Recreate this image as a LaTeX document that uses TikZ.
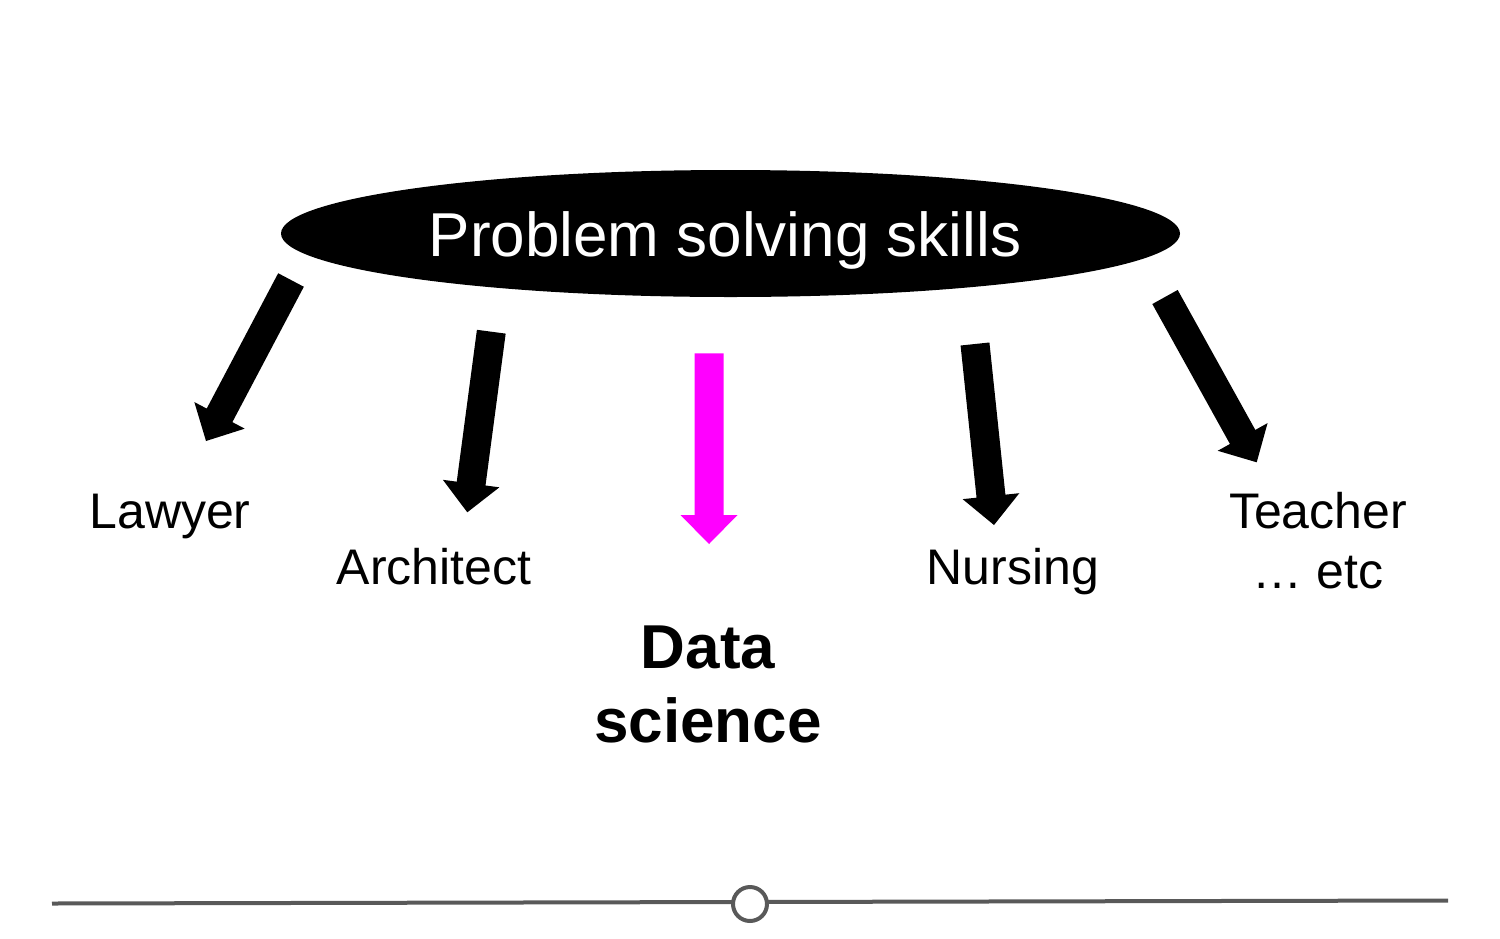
\documentclass[tikz,border=0pt]{standalone}
\usepackage{fontspec}
\setmainfont{Liberation Sans}
\usetikzlibrary{shapes.geometric,calc}
\definecolor{magentaarrow}{HTML}{FF00FF}
\definecolor{linegray}{HTML}{595959}
\newcommand\blockarr[3]{%
  \coordinate (ba-b) at ($(#2)!29pt!(#1)$);
  \fill[#3] ($(#1)!14.5pt!90:(#2)$) -- ($(ba-b)!14.5pt!90:(#2)$) --
    ($(ba-b)!28.5pt!90:(#2)$) -- (#2) -- ($(ba-b)!28.5pt!-90:(#2)$) --
    ($(ba-b)!14.5pt!-90:(#2)$) -- ($(#1)!14.5pt!-90:(#2)$) -- cycle;}
\tikzset{
  lbl/.style={font=\fontsize{50}{60}\selectfont, anchor=base, inner sep=0pt},
  boldlbl/.style={font=\fontsize{62}{74}\selectfont\bfseries, anchor=base, inner sep=0pt},
  titlelbl/.style={font=\fontsize{62}{74}\selectfont, text=white, anchor=base, inner sep=0pt},
  oval/.style={ellipse, fill=black, minimum width=899pt, minimum height=127pt, inner sep=0pt},
}
\begin{document}
\begin{tikzpicture}[x=1pt,y=-1pt]
\useasboundingbox (0,0) rectangle (1500,938);
% top ellipse
\node[oval] (ps) at (730.5,233.5) {};
\node[titlelbl] (pstext) at (725,256) {Problem solving skills};
% labels
\node[lbl] (lawyer) at (170,528) {Lawyer};
\node[lbl] (architect) at (434,584) {Architect};
\node[lbl] (nursing) at (1013,584) {Nursing};
\node[lbl] (teacher) at (1318,528) {Teacher};
\node[lbl] (etc) at (1318,588) {… etc};
\node[boldlbl] (data) at (708,668) {Data};
\node[boldlbl] (science) at (708,742) {science};
% arrow end points
\coordinate (t1) at (291,280);    \coordinate (h1) at (206,441);
\coordinate (t2) at (491.3,331.7); \coordinate (h2) at (467.3,512.3);
\coordinate (t3) at (709,353.3);  \coordinate (h3) at (709,544);
\coordinate (t4) at (975,344);    \coordinate (h4) at (994,525);
\coordinate (t5) at (1165,297);   \coordinate (h5) at (1256.7,462.3);
\blockarr{t1}{h1}{black}
\blockarr{t2}{h2}{black}
\blockarr{t3}{h3}{magentaarrow}
\blockarr{t4}{h4}{black}
\blockarr{t5}{h5}{black}
% bottom slider
\coordinate (lineL) at (52,903.5);
\coordinate (lineR) at (1448,900.5);
\draw[linegray, line width=4pt] (lineL) -- (lineR);
\node[circle, draw=linegray, line width=4pt, fill=white, minimum size=34pt, inner sep=0pt] (knob) at (750,904) {};
\end{tikzpicture}
\end{document}
